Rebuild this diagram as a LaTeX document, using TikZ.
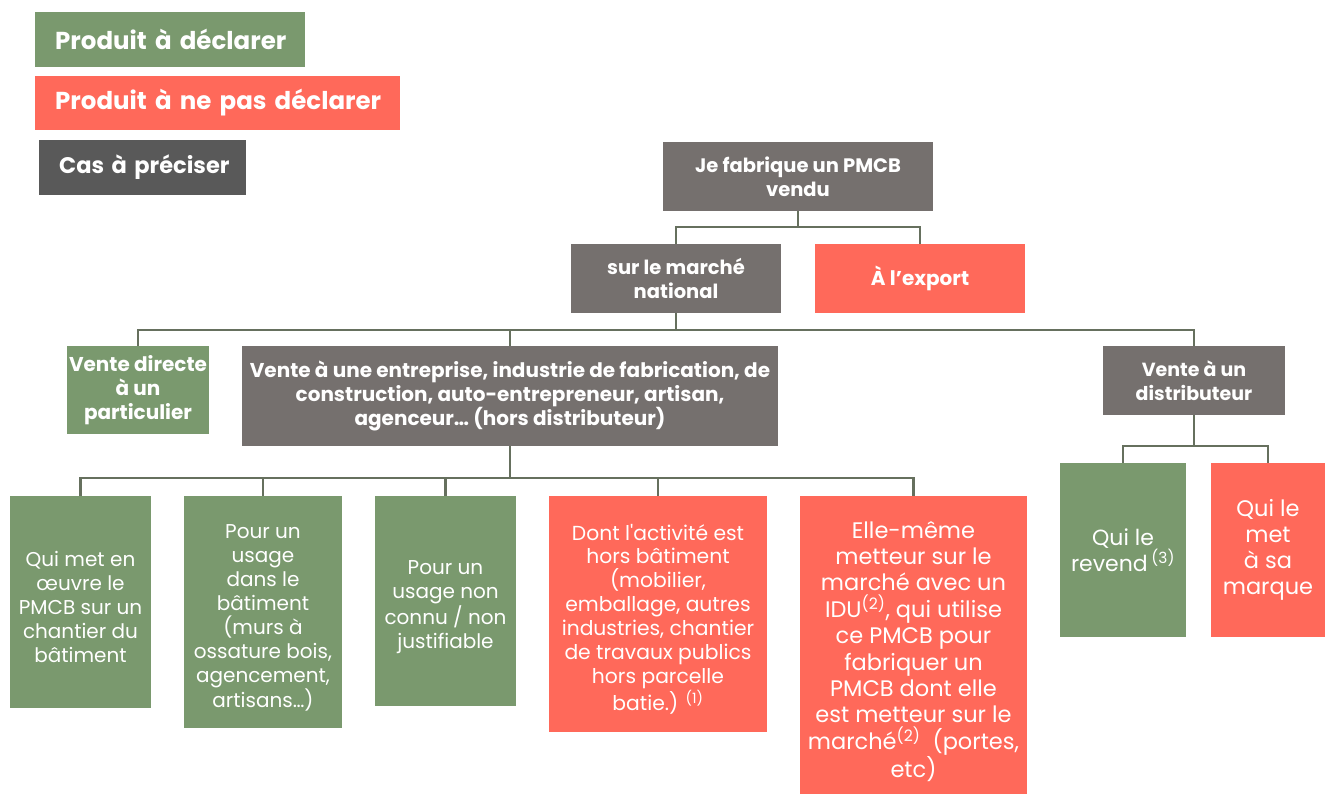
\documentclass[tikz,border=0pt]{standalone}
\usepackage{fontspec}
\usepackage{graphicx}
\setmainfont{Poppins}
\definecolor{cgreen}{HTML}{7A996E}
\definecolor{cred}{HTML}{FF695A}
\definecolor{cgray}{HTML}{75706E}
\definecolor{cdark}{HTML}{595959}
\definecolor{cline}{HTML}{66705E}
\tikzset{
  box/.style={rectangle, inner sep=0pt, align=center, text=white},
  gbox/.style={box, fill=cgreen},
  rbox/.style={box, fill=cred},
  kbox/.style={box, fill=cgray},
  hd/.style={font=\bfseries\fontsize{19.5}{24}\selectfont},
  lg/.style={font=\bfseries\fontsize{24.5}{28}\selectfont, inner sep=0pt, align=left, anchor=west},
  rg/.style={font=\fontsize{20}{24}\selectfont},
  conn/.style={draw=cline, line width=2.5pt}
}
\newcommand{\lowtext}[1]{\rule{0pt}{1.3em}#1}
\begin{document}
\begin{tikzpicture}[x=1pt,y=-1pt]
\useasboundingbox (0,0) rectangle (1325,794);
% legend
\node[gbox, lg, text width=270pt, minimum height=55pt] (lga) at (35,39.5) {\hspace*{20pt}Produit à déclarer};
\node[rbox, lg, text width=365pt, minimum height=54pt] (lgb) at (35,103) {\hspace*{20pt}Produit à ne pas déclarer};
\node[box, fill=cdark, lg, font=\bfseries\fontsize{22.5}{26}\selectfont, text width=207pt, minimum height=55pt] (lgc) at (39,167.5) {\hspace*{20pt}Cas à préciser};
% tree
\node[kbox, hd, minimum width=270pt, minimum height=69pt] (top) at (798,176.5) {Je fabrique un PMCB\\vendu};
\node[kbox, hd, minimum width=210pt, minimum height=69pt] (nat) at (676,278.5) {sur le marché\\national};
\node[rbox, hd, font=\bfseries\fontsize{20}{24}\selectfont, minimum width=210pt, minimum height=69pt] (exp) at (920,278.5) {À l’export};
\node[gbox, hd, font=\bfseries\fontsize{20}{24}\selectfont, minimum width=142pt, minimum height=88pt] (vd) at (138,390) {Vente directe\\à un\\particulier};
\node[kbox, hd, font=\bfseries\fontsize{20}{23.5}\selectfont, minimum width=536pt, minimum height=100pt] (ent) at (510,396) {Vente à une entreprise, industrie de fabrication, de\\construction, auto-entrepreneur, artisan,\\agenceur… (hors distributeur)};
\node[kbox, hd, font=\bfseries\fontsize{19}{24}\selectfont, minimum width=182pt, minimum height=69pt] (dist) at (1194,380.5) {Vente à un\\distributeur};
\node[gbox, rg, minimum width=141pt, minimum height=212pt] (c1) at (80.5,602) {\lowtext{Qui met en}\\œuvre le\\PMCB sur un\\chantier du\\bâtiment};
\node[gbox, rg, minimum width=158pt, minimum height=232pt] (c2) at (263,612) {\lowtext{Pour un}\\usage\\dans le\\bâtiment\\(murs à\\ossature bois,\\agencement,\\artisans…)};
\node[gbox, rg, minimum width=141pt, minimum height=210pt] (c3) at (445.5,601) {\lowtext{Pour un}\\usage non\\connu / non\\justifiable};
\node[rbox, font=\fontsize{20.3}{23.9}\selectfont, minimum width=218pt, minimum height=236pt] (c4) at (658,614) {\lowtext{Dont l\textquotesingle activité est}\\hors bâtiment\\(mobilier,\\emballage, autres\\industries, chantier\\de travaux publics\\hors parcelle\\batie.) \textsuperscript{(1)}};
\node[rbox, font=\fontsize{22.5}{26.4}\selectfont, minimum width=227pt, minimum height=298pt] (c5) at (913.5,645) {\lowtext{Elle-même}\\metteur sur le\\marché avec un\\IDU\textsuperscript{(2)}, qui utilise\\ce PMCB pour\\fabriquer un\\PMCB dont elle\\est metteur sur le\\marché\textsuperscript{(2)}\ \ (portes,\\etc)};
\node[gbox, font=\fontsize{22}{26}\selectfont, minimum width=126pt, minimum height=174pt] (d1) at (1123,550) {Qui le\\revend\,\textsuperscript{(3)}};
\node[rbox, font=\fontsize{22.5}{26}\selectfont, minimum width=114pt, minimum height=174pt] (d2) at (1268,550) {Qui le\\met\\à sa\\marque};
% bus coordinates
\coordinate (b1) at (0,227);
\coordinate (b2) at (0,330);
\coordinate (b3) at (0,478);
\coordinate (b4) at (0,446);
% connectors
\draw[conn] (top.south) -- (top.south |- b1);
\draw[conn] (nat.north) |- (exp.north |- b1) -- (exp.north);
\draw[conn] (nat.south) -- (nat.south |- b2);
\draw[conn] (vd.north) |- (dist.north |- b2) -- (dist.north);
\draw[conn] (ent.north) -- (ent.north |- b2);
\draw[conn] (ent.south) -- (ent.south |- b3);
\draw[conn] (c1.north) |- (c5.north |- b3) -- (c5.north);
\draw[conn] (c2.north) -- (c2.north |- b3);
\draw[conn] (c3.north) -- (c3.north |- b3);
\draw[conn] (c4.north) -- (c4.north |- b3);
\draw[conn] (dist.south) -- (dist.south |- b4);
\draw[conn] (d1.north) |- (d2.north |- b4) -- (d2.north);
\end{tikzpicture}
\end{document}
